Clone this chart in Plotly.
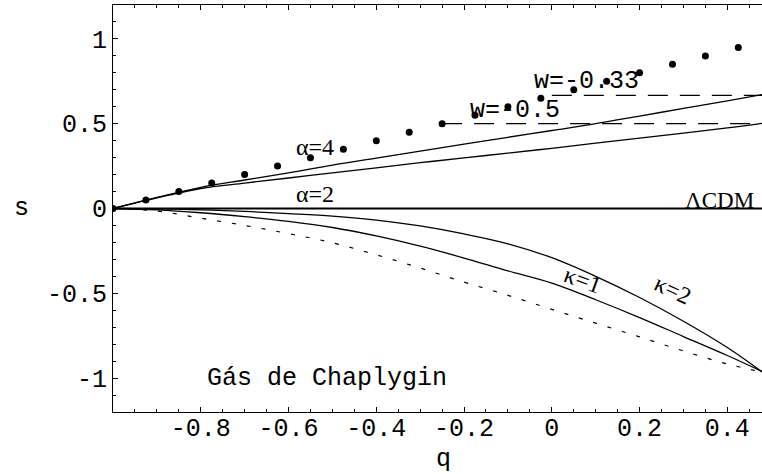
import plotly.graph_objects as go

# --- data ---
q_grid = [-1.0, -0.9, -0.8, -0.7, -0.6, -0.5, -0.4, -0.3, -0.2, -0.1, 0.0, 0.1, 0.2, 0.3, 0.4, 0.48]
s_alpha4 = [0.0, 0.065, 0.125, 0.168, 0.21, 0.256, 0.297, 0.338, 0.38, 0.42, 0.46, 0.50, 0.545, 0.59, 0.635, 0.672]
s_alpha2 = [0.0, 0.062, 0.118, 0.15, 0.18, 0.21, 0.24, 0.27, 0.298, 0.327, 0.355, 0.385, 0.415, 0.445, 0.475, 0.502]
s_kappa2 = [0.0, -0.002, -0.008, -0.017, -0.03, -0.045, -0.068, -0.103, -0.15, -0.208, -0.29, -0.40, -0.525, -0.665, -0.82, -0.965]
s_kappa1 = [0.0, -0.008, -0.025, -0.048, -0.076, -0.112, -0.162, -0.222, -0.292, -0.368, -0.44, -0.538, -0.643, -0.755, -0.867, -0.962]
s_chaplygin = [0.0, -0.015, -0.057, -0.10, -0.148, -0.202, -0.273, -0.351, -0.434, -0.512, -0.595, -0.676, -0.757, -0.84, -0.917, -0.965]

q_dots = [-1.0, -0.925, -0.85, -0.775, -0.7, -0.625, -0.55, -0.475, -0.4, -0.325,
          -0.25, -0.175, -0.1, -0.025, 0.05, 0.125, 0.2, 0.275, 0.35, 0.425]
s_dots = [0.0, 0.05, 0.1, 0.15, 0.2, 0.25, 0.3, 0.35, 0.4, 0.45,
          0.5, 0.55, 0.6, 0.65, 0.7, 0.75, 0.8, 0.85, 0.9, 0.95]

q_lcdm = [-1.0, 0.48]
s_lcdm = [0.0, 0.0]
q_w05 = [-0.25, 0.48]
s_w05 = [0.5, 0.5]
q_w033 = [0.0, 0.48]
s_w033 = [0.667, 0.667]

x_ticks = [-0.8, -0.6, -0.4, -0.2, 0, 0.2, 0.4]
x_ticktext = ["-0.8", "-0.6", "-0.4", "-0.2", "0", "0.2", "0.4"]
y_ticks = [-1, -0.5, 0, 0.5, 1]
y_ticktext = ["-1", "-0.5", "0", "0.5", "1"]

MONO = "Liberation Mono"
SERIF = "Liberation Serif"

L, R, T, B, W, H = 113, 0, 5, 62, 762, 474

fig = go.Figure()
solid = dict(color="black", width=1.3)
fig.add_trace(go.Scatter(x=q_lcdm, y=s_lcdm, mode="lines", line=dict(color="black", width=2)))
fig.add_trace(go.Scatter(x=q_grid, y=s_alpha4, mode="lines", line=solid, line_shape="spline"))
fig.add_trace(go.Scatter(x=q_grid, y=s_alpha2, mode="lines", line=solid, line_shape="spline"))
fig.add_trace(go.Scatter(x=q_grid, y=s_kappa2, mode="lines", line=solid, line_shape="spline"))
fig.add_trace(go.Scatter(x=q_grid, y=s_kappa1, mode="lines", line=solid, line_shape="spline"))
fig.add_trace(go.Scatter(x=q_grid, y=s_chaplygin, mode="lines", line_shape="spline",
                         line=dict(color="black", width=1.2, dash="4px,11px")))
fig.add_trace(go.Scatter(x=q_w05, y=s_w05, mode="lines",
                         line=dict(color="black", width=1.3, dash="20px,12px")))
fig.add_trace(go.Scatter(x=q_w033, y=s_w033, mode="lines",
                         line=dict(color="black", width=1.3, dash="20px,12px")))
fig.add_trace(go.Scatter(x=q_dots, y=s_dots, mode="markers",
                         marker=dict(color="black", size=7)))

def ann(text, x, y, font, size, xanchor="center", angle=0):
    fig.add_annotation(x=x, y=y, xref="x", yref="y", text=text, showarrow=False,
                       xanchor=xanchor, yanchor="middle", textangle=angle,
                       font=dict(family=font, size=size, color="black"))

ann("α=4", -0.54, 0.36, SERIF, 24)
ann("α=2", -0.54, 0.083, SERIF, 24)
ann("w=-0.33", -0.045, 0.75, MONO, 25, xanchor="left")
ann("w=-0.5", -0.19, 0.58, MONO, 25, xanchor="left")
ann("ΛCDM", 0.465, 0.047, SERIF, 23, xanchor="right")
ann("Gás de Chaplygin", -0.79, -1.0, MONO, 25, xanchor="left")
ann("κ=1", 0.071, -0.42, SERIF, 24, angle=20)
ann("κ=2", 0.277, -0.48, SERIF, 24, angle=25)

fig.add_annotation(text="s", showarrow=False, xref="paper", yref="paper",
                   x=(21 - L) / (W - L - R), y=(H - B - 209) / (H - B - T),
                   xanchor="center", yanchor="middle",
                   font=dict(family=MONO, size=25, color="black"))
fig.add_annotation(text="q", showarrow=False, xref="paper", yref="paper",
                   x=(443 - L) / (W - L - R), y=(H - B - 459) / (H - B - T),
                   xanchor="center", yanchor="middle",
                   font=dict(family=MONO, size=25, color="black"))

fig.update_layout(
    width=W, height=H,
    margin=dict(l=L, r=R, t=T, b=B),
    paper_bgcolor="white", plot_bgcolor="white",
    showlegend=False,
    font=dict(family=MONO, size=25, color="black"),
)
fig.update_xaxes(
    range=[-1.0, 0.479], showgrid=False, zeroline=False,
    showline=True, linecolor="black", linewidth=1, mirror="ticks",
    ticks="inside", ticklen=5, tickcolor="black", tickwidth=1,
    tickvals=x_ticks, ticktext=x_ticktext, ticklabelstandoff=-7,
    tickfont=dict(family=MONO, size=25, color="black"),
    minor=dict(dtick=0.05, tick0=-1.0, ticks="inside", ticklen=3, tickcolor="black", showgrid=False),
)
fig.update_yaxes(
    range=[-1.2, 1.2], showgrid=False, zeroline=False,
    showline=True, linecolor="black", linewidth=1, mirror=False,
    ticks="inside", ticklen=5, tickcolor="black", tickwidth=1,
    tickvals=y_ticks, ticktext=y_ticktext,
    tickfont=dict(family=MONO, size=25, color="black"),
    minor=dict(dtick=0.1, tick0=-1.2, ticks="inside", ticklen=3, tickcolor="black", showgrid=False),
)

fig.write_html("out.html")
